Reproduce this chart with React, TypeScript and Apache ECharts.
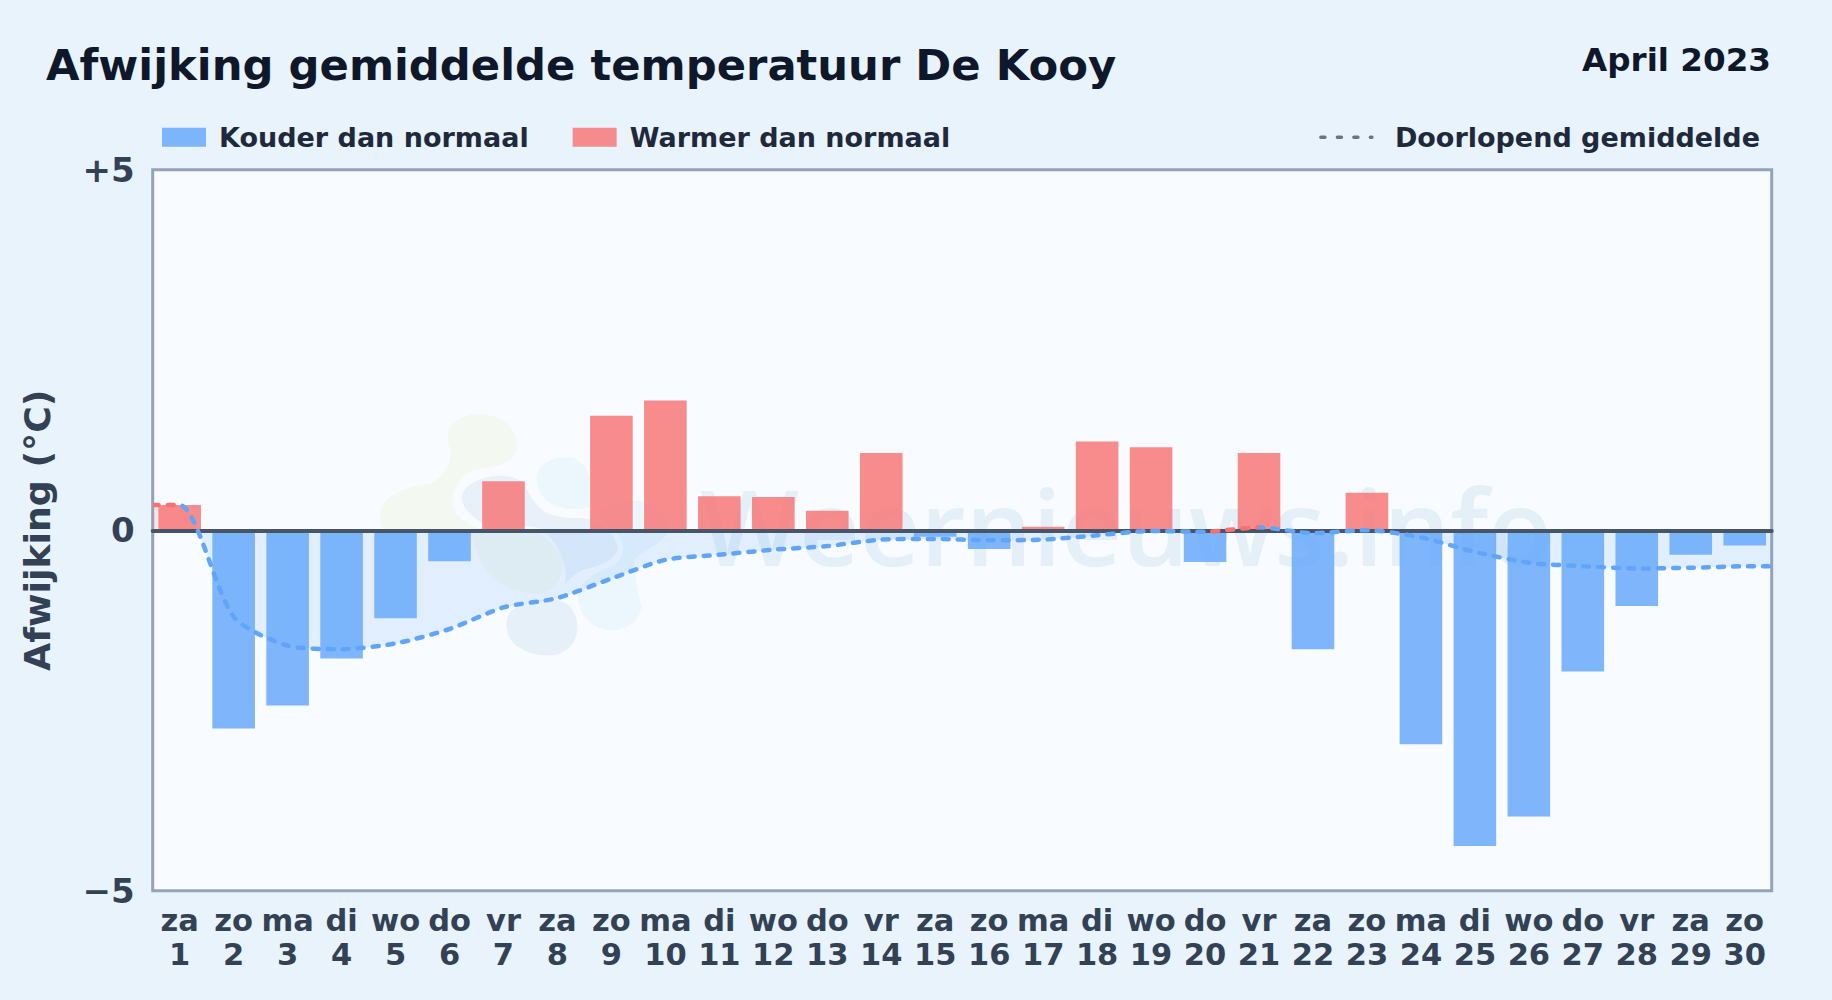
import React, { useEffect, useRef } from "react";
import * as echarts from "echarts";

const weekdays = ["za","zo","ma","di","wo","do","vr","za","zo","ma","di","wo","do","vr","za","zo","ma","di","wo","do","vr","za","zo","ma","di","wo","do","vr","za","zo"];
const deviation = [0.35,-2.75,-2.43,-1.78,-1.22,-0.43,0.68,0,1.59,1.8,0.47,0.46,0.27,1.07,-0.09,-0.26,0.05,1.23,1.15,-0.44,1.07,-1.65,0.52,-2.97,-4.38,-3.97,-1.96,-1.05,-0.34,-0.21];
const runningMean = [0.35,-1.2,-1.6,-1.65,-1.57,-1.37,-1.07,-0.94,-0.67,-0.41,-0.34,-0.27,-0.22,-0.13,-0.12,-0.14,-0.13,-0.07,-0.01,-0.02,0.04,-0.04,0,-0.1,-0.3,-0.45,-0.5,-0.53,-0.52,-0.5];
const days = weekdays.map((_, i) => i + 1);
const categories = days.map((d, i) => `${weekdays[i]}\n${d}`);
const coldValues = deviation.map((v) => (v < 0 ? v : null));
const warmValues = deviation.map((v) => (v > 0 ? v : null));

const meanPoints: [number, number][] = [
  [0.5, runningMean[0]],
  ...days.map((d, i) => [d, runningMean[i]] as [number, number]),
  [30.5, runningMean[runningMean.length - 1]],
];

const FONT = "'DejaVu Sans', sans-serif";
const BLUE = "#60a5fa";
const RED = "#f87171";

// watermark logo blobs, drawn in a 3x space with its origin at (360, 390)
const blobGreen = "M60 380C60 320 120 295 215 280C260 250 275 220 272 180C250 130 270 80 350 72C430 70 480 120 470 180C460 220 420 230 340 240C280 270 265 330 290 370C320 405 350 420 420 425C500 405 560 420 610 510C610 570 580 610 540 610C470 615 400 590 360 510C345 470 335 440 330 430L70 420C62 405 60 395 60 380Z";
const blobCenter = "M305 325C310 260 450 235 490 280C520 320 520 380 640 385C690 380 750 400 775 470C770 510 720 530 670 540C640 555 625 570 615 590C625 540 610 490 570 440C540 405 500 400 430 425C370 410 310 370 305 325Z";
const blobTop = "M532 265C535 215 590 195 640 205C690 225 700 270 695 350C660 360 600 365 560 330C540 310 530 290 532 265Z";
const blobRight = "M700 380C740 340 790 325 850 335C900 345 935 380 925 430C905 460 850 480 825 510C820 530 830 590 845 650C840 700 790 725 740 720C690 710 655 670 655 620C655 590 680 555 760 530C790 510 800 470 780 440C760 410 730 390 700 380Z";
const blobBottom = "M440 700C440 660 480 640 540 630C600 620 640 640 650 690C660 740 640 780 590 795C530 805 470 780 450 745C442 730 440 715 440 700Z";

echarts.graphic.registerShape("wmGreen", echarts.graphic.extendPath(blobGreen, {}) as any);
echarts.graphic.registerShape("wmCenter", echarts.graphic.extendPath(blobCenter, {}) as any);
echarts.graphic.registerShape("wmTop", echarts.graphic.extendPath(blobTop, {}) as any);
echarts.graphic.registerShape("wmRight", echarts.graphic.extendPath(blobRight, {}) as any);
echarts.graphic.registerShape("wmBottom", echarts.graphic.extendPath(blobBottom, {}) as any);

const blob = (type: string, fill: string) => ({ type, x: 360, y: 390, scaleX: 1 / 3, scaleY: 1 / 3, z: 1, silent: true, style: { fill } });

export default function App() {
  const ref = useRef<HTMLDivElement>(null);
  useEffect(() => {
    document.body.style.margin = "0";
    const chart = echarts.init(ref.current!, undefined, { renderer: "svg" });
    chart.setOption({
      animation: false,
      backgroundColor: "#e8f3fc",
      textStyle: { fontFamily: FONT },
      grid: { left: 152.7, right: 60.3, top: 169.8, bottom: 109.3, show: true, backgroundColor: "#f8fbff", borderColor: "#94a3b8", borderWidth: 3, containLabel: false, outerBoundsMode: "none" },
      legend: [
        {
          left: 162, top: 123.7, padding: 0, itemWidth: 44, itemHeight: 19, itemGap: 44, icon: "rect",
          data: ["Kouder dan normaal", "Warmer dan normaal"],
          selectedMode: false,
          textStyle: { fontSize: 27, fontWeight: "bold", color: "#1e293b", fontFamily: FONT, padding: [0, 0, 0, 8] },
        },
        {
          right: 72, top: 123.7, padding: 0, itemWidth: 51, itemHeight: 19,
          data: ["Doorlopend gemiddelde"],
          selectedMode: false,
          itemStyle: { opacity: 0 },
          textStyle: { fontSize: 27, fontWeight: "bold", color: "#1e293b", fontFamily: FONT, padding: [0, 0, 0, 18] },
          lineStyle: { color: "#64748b", width: 3.5, type: [4, 12.5] },
        },
      ],
      xAxis: [
        {
          type: "category", data: categories, position: "bottom",
          axisLine: { show: false, onZero: false }, axisTick: { show: false },
          axisLabel: { interval: 0, fontSize: 30.5, lineHeight: 34, fontWeight: "bold", color: "#334155", fontFamily: FONT, margin: 12.5 },
        },
        {
          type: "value", min: 0.5, max: 30.5, position: "bottom", z: 5,
          axisLine: { show: true, onZero: true, lineStyle: { color: "#475569", width: 4 } },
          axisTick: { show: false }, axisLabel: { show: false }, splitLine: { show: false },
        },
      ],
      yAxis: {
        type: "value", min: -5, max: 5, interval: 5,
        name: "Afwijking (°C)", nameLocation: "middle", nameGap: 97, nameRotate: 90,
        nameTextStyle: { fontSize: 36.3, fontWeight: "bold", color: "#334155", fontFamily: FONT },
        axisLine: { show: false }, axisTick: { show: false }, splitLine: { show: false },
        axisLabel: {
          fontSize: 34, fontWeight: "bold", color: "#334155", fontFamily: FONT, margin: 18,
          formatter: (v: number) => (v > 0 ? `+${v}` : v < 0 ? `\u2212${-v}` : "0"),
        },
      },
      visualMap: [
        {
          show: false, seriesIndex: 2, dimension: 1,
          pieces: [{ gte: -5, lte: 0, color: BLUE }, { gt: 0, lte: 5, color: RED }],
        },
        {
          show: false, seriesIndex: 3, dimension: 0,
          pieces: [{ gte: 0.5, lte: 1, color: RED }, { gt: 1, lte: 20, color: BLUE }, { gt: 20, lte: 21, color: RED }, { gt: 21, lte: 30.5, color: BLUE }],
        },
      ],
      series: [
        { name: "Kouder dan normaal", type: "bar", data: coldValues, barWidth: 42.6, barGap: "-100%", itemStyle: { color: "rgba(96,165,250,0.8)" } },
        { name: "Warmer dan normaal", type: "bar", data: warmValues, barWidth: 42.6, barGap: "-100%", itemStyle: { color: "rgba(248,113,113,0.8)" } },
        {
          name: "Vulling", type: "line", xAxisIndex: 1, data: meanPoints, smooth: 0.25, showSymbol: false, symbol: "none", z: 1,
          lineStyle: { width: 0 }, areaStyle: { opacity: 0.15 }, silent: true,
        },
        {
          name: "Doorlopend gemiddelde", type: "line", xAxisIndex: 1, data: meanPoints, smooth: 0.25, showSymbol: false, symbol: "none", z: 6,
          lineStyle: { width: 4.5, type: [6, 9], cap: "round" },
        },
      ],
      graphic: [
        blob("wmGreen", "#f3f9f1"),
        blob("wmCenter", "#e8f1f9"),
        blob("wmTop", "#ebf6fd"),
        blob("wmRight", "#ebf6fd"),
        blob("wmBottom", "#e6f0f8"),
        { type: "text", x: 700, y: 473, z: 1, silent: true, style: { text: "Weernieuws.info", font: "600 105px 'Open Sans', sans-serif", fill: "#e4eff8" } },
        { type: "text", x: 46, y: 43, z: 10, style: { text: "Afwijking gemiddelde temperatuur De Kooy", font: `bold 43.3px ${FONT}`, fill: "#0f172a" } },
        { type: "text", x: 1771, y: 43, z: 10, style: { text: "April 2023", font: `bold 32.6px ${FONT}`, fill: "#0f172a", textAlign: "right" } },
      ],
    });
    return () => chart.dispose();
  }, []);
  return <div ref={ref} style={{ width: 1832, height: 1000 }} />;
}
